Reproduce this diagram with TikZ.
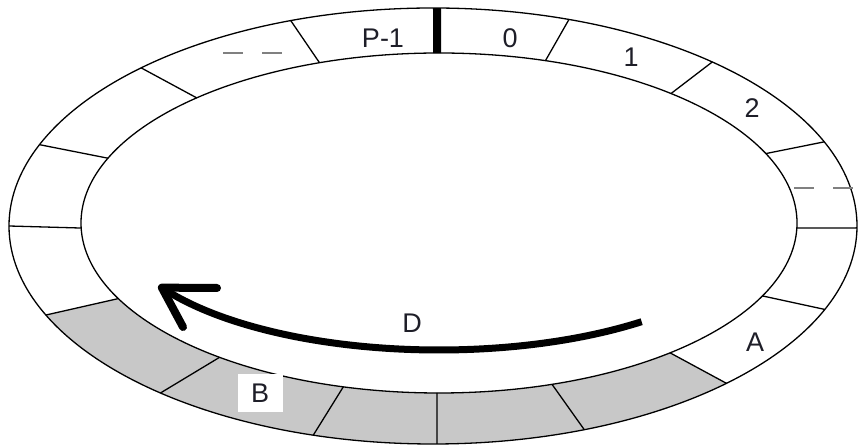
\documentclass[tikz,border=0pt]{standalone}
\usepackage{fontspec}
\setmainfont{Liberation Sans}
\usetikzlibrary{calc}
\definecolor{shadegray}{RGB}{200,200,200}
\definecolor{dashgray}{RGB}{128,128,128}
\definecolor{labelcol}{RGB}{30,30,40}
\begin{document}
\begin{tikzpicture}[x=1pt,y=1pt,
  ring/.style={line width=1.3pt},
  divider/.style={line width=1.3pt},
  dotline/.style={dashgray,line width=1.3pt,dash pattern=on 20pt off 19pt},
  lab/.style={font=\fontsize{27}{27}\selectfont,text=labelcol,inner sep=0pt}]
\useasboundingbox (0,0) rectangle (858,446);
\coordinate (O) at (433,220);
\coordinate (I) at (439,223);
% shaded sectors
\fill[shadegray] ($(O)+(-155.9:424 and 218)$)
  arc[start angle=-155.9,end angle=-46.2,x radius=424pt,y radius=218pt]
  -- ($(I)+(-49.8:358 and 170)$)
  arc[start angle=-49.8,end angle=-153.6,x radius=358pt,y radius=170pt]
  -- cycle;
% rings
\draw[ring] (O) ellipse[x radius=424pt,y radius=218pt];
\draw[ring] (I) ellipse[x radius=358pt,y radius=170pt];
% dividers
\foreach \a/\b in {109.6/109.5,71.3/72.7,48.8/49.6,22.7/24.1,-0.5/-1.7,-22.5/-25.4,-46.2/-49.8,-69.1/-71.6,-89.46/-90.32,-106.4/-105.5,-130/-127.8,-155.9/-153.6,180/181.7,158.1/157.6,133.5/132.6}
  \draw[divider] ($(O)+(\a:424 and 218)$) -- ($(I)+(\b:358 and 170)$);
% thick marker
\draw[line width=8pt] ($(O)+(89.46:424 and 218)$) -- ($(I)+(90.32:358 and 170)$);
% dotted gaps
\coordinate (d1s) at (223,393);
\coordinate (d1e) at (283,393);
\coordinate (d2s) at (794,258);
\coordinate (d2e) at (858,258);
\draw[dotline] (d1s) -- (d1e);
\draw[dotline] (d2s) -- (d2e);
% arrow D
\draw[line width=7pt] ($(I)+(-51:322 and 127)$)
  arc[start angle=-51,end angle=-149.4,x radius=322pt,y radius=127pt] coordinate (tip);
\coordinate (arm1) at (217,158);
\coordinate (arm2) at (183,119);
\draw[line width=8pt,line cap=round,line join=round] (arm1) -- (tip) -- (arm2);
% labels
\node[lab] (lp) at (383,408) {P-1};
\node[lab] (l0) at (510,408) {0};
\node[lab] (l1) at (631,389) {1};
\node[lab] (l2) at (752,338) {2};
\node[lab,fill=white,minimum width=45pt,minimum height=38pt] (lB) at (260,53) {B};
\node[lab] (lD) at (412,123) {D};
\node[lab] (lA) at (755,104) {A};
\end{tikzpicture}
\end{document}
